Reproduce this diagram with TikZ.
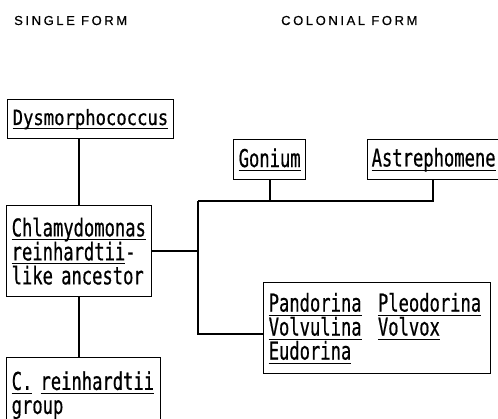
\documentclass[tikz,border=0pt]{standalone}
\usepackage{fontspec}
\usepackage{tikz}
\newfontfamily\plotfont[FakeStretch=0.7, FakeBold=0.6]{DejaVu Sans Mono}
\newfontfamily\plotfontsm[FakeStretch=0.82, FakeBold=0.6]{DejaVu Sans Mono}
\newfontfamily\headfont[LetterSpace=20, FakeBold=0.5]{Liberation Sans}
\newsavebox\spbox
\newcommand{\spname}[1]{\leavevmode\sbox\spbox{#1}\rlap{\rule[-4pt]{\wd\spbox}{0.9pt}}\usebox\spbox}
\tikzset{taxon/.style={draw, line width=1.4pt, anchor=north west, inner xsep=5pt, inner ysep=0pt, align=left, font=\plotfont\fontsize{24.5}{24}\selectfont}}
\tikzset{link/.style={line width=1.6pt}}
\tikzset{head/.style={anchor=base west, inner sep=0pt, font=\headfont\fontsize{13}{14}\selectfont}}

\begin{document}
\begin{tikzpicture}[x=1pt, y=-1pt]
    \useasboundingbox (0,0) rectangle (498,419);
    % headings
    \node[head] (single) at (14,25) {SINGLE FORM};
    \node[head] (colonial) at (281,25) {COLONIAL FORM};
    % single form
    \node[taxon, minimum width=166pt, minimum height=39pt, text width=156pt,
        font=\plotfontsm\fontsize{21}{22}\selectfont] (dys) at (7,99) {\spname{Dysmorphococcus}};
    \node[taxon, minimum width=145pt, minimum height=91pt, text width=135pt] (chla) at (6,205)
        {\spname{Chlamydomonas}\\\spname{reinhardtii}-\\like ancestor};
    \node[taxon, minimum width=154pt, minimum height=75pt, text width=144pt] (crein) at (6,357)
        {\spname{C.}\ \spname{reinhardtii}\\group};
    % colonial form
    \node[taxon, minimum width=72pt, minimum height=40pt, text width=62pt] (gon) at (233,139) {\spname{Gonium}};
    \node[taxon, minimum width=131pt, minimum height=40pt, text width=123pt, inner xsep=4pt] (astr) at (367,139) {\spname{Astrephomene}};
    \node[taxon, minimum width=227pt, minimum height=91pt, text width=217pt] (pand) at (263,282)
        {\spname{Pandorina}\ \ \spname{Pleodorina}\\\spname{Volvulina}\ \ \spname{Volvox}\\\spname{Eudorina}};
    \coordinate (fork) at (198,201);
    \coordinate (forkend) at (198,334);
    % lines
    \draw[link] (chla.north) -- (chla.north |- dys.south);
    \draw[link] (chla.south) -- (chla.south |- crein.north);
    \draw[link] (chla.east) -- (chla.east -| fork);
    \draw[link] (fork) -- (forkend) -- (forkend -| pand.west);
    \draw[link] (gon.south) -- (gon.south |- fork);
    \draw[link] (fork) -| (astr.south);
\end{tikzpicture}
\end{document}
